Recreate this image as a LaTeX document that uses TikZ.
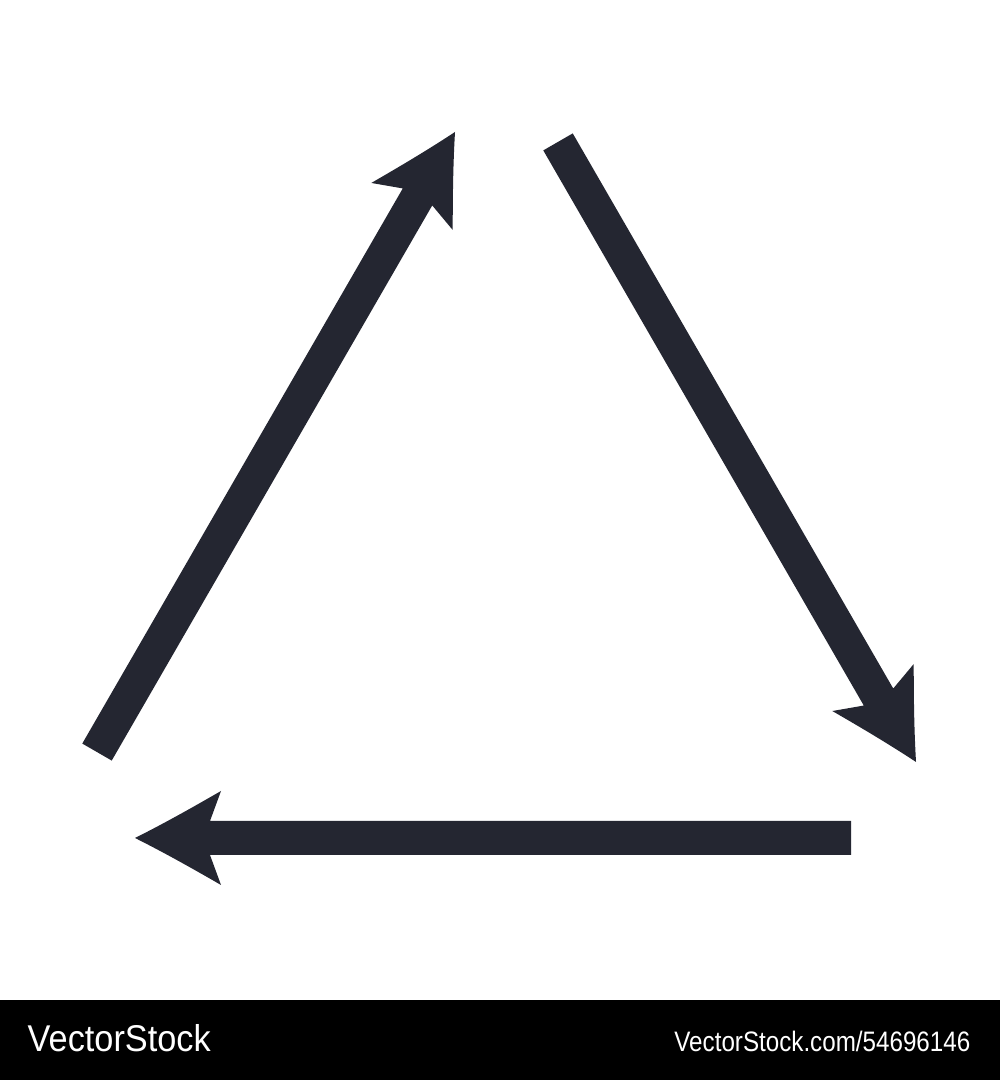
\documentclass[tikz,border=0pt]{standalone}
\usepackage{fontspec}
\setmainfont{Liberation Sans}
\definecolor{ink}{RGB}{36,38,49}
\tikzset{
  bigarrow/.pic={
    \fill[ink] (0,0) .. controls (-30,15) and (-60,32) .. (-86,47)
      -- (-75,17) -- (-716,17) -- (-716,-17) -- (-75,-17) -- (-86,-47)
      .. controls (-60,-32) and (-30,-15) .. (0,0) -- cycle;
  },
  bartext/.style={text=white, inner sep=0pt}
}
\begin{document}
\begin{tikzpicture}[x=0.01cm, y=0.01cm]
\useasboundingbox (0,0) rectangle (1000,1080);
\fill[white] (0,0) rectangle (1000,1080);
% arrows of the triangle
\pic[rotate=60] (up) at (455,948) {bigarrow};
\pic[rotate=-60] (down) at (916,318) {bigarrow};
\pic[rotate=180] (back) at (135,242) {bigarrow};
% bottom bar
\fill[black] (0,0) rectangle (1000,80);
\node[bartext, anchor=base west] (brand) at (27,28) {\scalebox{0.92}[1]{\fontsize{10.6}{12}\selectfont VectorStock}};
\node[bartext, anchor=base east] (ref) at (971,28) {\scalebox{0.86}[1]{\fontsize{8}{9}\selectfont VectorStock.com/54696146}};
\end{tikzpicture}
\end{document}
